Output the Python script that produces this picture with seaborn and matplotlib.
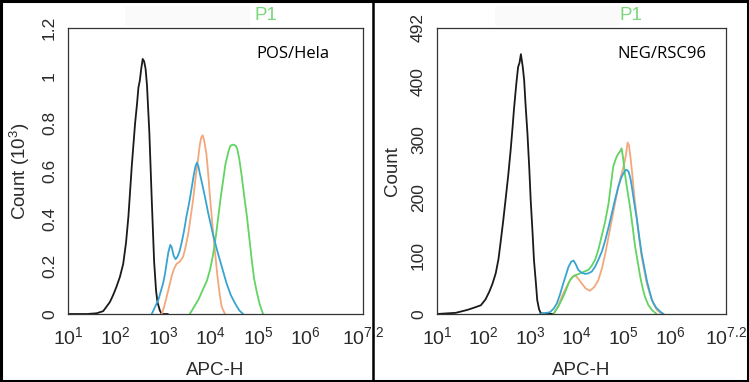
import numpy as np
import pandas as pd
import matplotlib.pyplot as plt
import matplotlib.ticker as mticker
from matplotlib.lines import Line2D
from matplotlib.patches import Rectangle
import seaborn as sns

# ---- data (x in log10 units, y in counts) ----
# left panel: POS/Hela, counts in 10^3
pos_black_x = [1.0, 1.4, 1.6, 1.74, 1.88, 1.95, 2.02, 2.09, 2.16, 2.22, 2.27, 2.34, 2.41, 2.45, 2.48, 2.51, 2.54, 2.57, 2.60, 2.63, 2.66, 2.71, 2.76, 2.81, 2.85, 2.88, 2.93, 2.97, 3.1]
pos_black_y = [0.0, 0.0, 0.003, 0.012, 0.05, 0.08, 0.115, 0.155, 0.21, 0.30, 0.41, 0.62, 0.80, 0.88, 0.95, 0.98, 1.03, 1.07, 1.06, 1.03, 0.96, 0.76, 0.48, 0.22, 0.10, 0.05, 0.015, 0.0, 0.0]
pos_blue_x = [2.76, 2.83, 2.90, 2.95, 3.0, 3.04, 3.07, 3.11, 3.15, 3.18, 3.22, 3.26, 3.30, 3.34, 3.39, 3.44, 3.49, 3.55, 3.60, 3.64, 3.68, 3.71, 3.74, 3.77, 3.81, 3.88, 3.95, 4.04, 4.13, 4.23, 4.33, 4.42, 4.51, 4.60, 4.68]
pos_blue_y = [0.0, 0.03, 0.06, 0.095, 0.13, 0.17, 0.21, 0.26, 0.29, 0.28, 0.245, 0.23, 0.24, 0.26, 0.30, 0.35, 0.41, 0.47, 0.53, 0.58, 0.62, 0.635, 0.62, 0.59, 0.555, 0.49, 0.42, 0.34, 0.27, 0.20, 0.13, 0.08, 0.045, 0.015, 0.0]
pos_orange_x = [2.97, 3.02, 3.07, 3.12, 3.18, 3.23, 3.28, 3.35, 3.42, 3.47, 3.53, 3.58, 3.63, 3.68, 3.74, 3.77, 3.80, 3.83, 3.86, 3.91, 3.95, 3.98, 4.02, 4.05, 4.10, 4.14, 4.19, 4.23, 4.30]
pos_orange_y = [0.0, 0.03, 0.07, 0.11, 0.16, 0.19, 0.21, 0.22, 0.24, 0.28, 0.34, 0.41, 0.48, 0.57, 0.66, 0.71, 0.74, 0.75, 0.73, 0.67, 0.58, 0.50, 0.41, 0.34, 0.24, 0.16, 0.08, 0.03, 0.0]
pos_green_x = [3.56, 3.65, 3.74, 3.83, 3.92, 3.99, 4.05, 4.11, 4.16, 4.21, 4.26, 4.31, 4.37, 4.41, 4.45, 4.49, 4.53, 4.56, 4.60, 4.65, 4.70, 4.76, 4.81, 4.86, 4.91, 4.97, 5.03, 5.10]
pos_green_y = [0.0, 0.03, 0.06, 0.10, 0.14, 0.19, 0.25, 0.33, 0.41, 0.49, 0.56, 0.63, 0.68, 0.705, 0.71, 0.71, 0.705, 0.69, 0.65, 0.58, 0.50, 0.41, 0.32, 0.23, 0.15, 0.09, 0.04, 0.0]

# right panel: NEG/RSC96, raw counts
neg_black_x = [1.0, 1.4, 1.65, 1.8, 1.94, 2.04, 2.12, 2.19, 2.26, 2.32, 2.37, 2.42, 2.47, 2.53, 2.58, 2.62, 2.65, 2.70, 2.74, 2.77, 2.80, 2.84, 2.87, 2.90, 2.94, 2.98, 3.01, 3.05, 3.08, 3.12, 3.15, 3.19, 3.23, 3.5]
neg_black_y = [0, 2, 7, 11, 15, 25, 38, 52, 70, 95, 127, 160, 196, 240, 282, 320, 351, 395, 425, 432, 447, 425, 402, 360, 311, 250, 196, 140, 93, 55, 24, 8, 1, 0]
neg_blue_x = [3.2, 3.42, 3.50, 3.57, 3.64, 3.71, 3.77, 3.82, 3.88, 3.93, 3.98, 4.03, 4.10, 4.18, 4.25, 4.32, 4.39, 4.46, 4.54, 4.61, 4.68, 4.75, 4.82, 4.89, 4.95, 5.00, 5.04, 5.07, 5.11, 5.15, 5.18, 5.23, 5.29, 5.34, 5.39, 5.45, 5.50, 5.56, 5.61, 5.70, 5.79, 5.86]
neg_blue_y = [0, 3, 9, 18, 34, 53, 68, 81, 90, 92, 85, 76, 71, 69, 70, 73, 81, 93, 108, 127, 149, 173, 197, 219, 234, 242, 247, 248, 245, 233, 219, 192, 162, 132, 104, 79, 58, 39, 24, 11, 4, 0]
neg_orange_x = [3.50, 3.60, 3.68, 3.75, 3.82, 3.89, 3.96, 4.03, 4.10, 4.19, 4.28, 4.37, 4.46, 4.54, 4.61, 4.68, 4.75, 4.82, 4.89, 4.95, 5.00, 5.05, 5.09, 5.12, 5.15, 5.18, 5.23, 5.29, 5.34, 5.39, 5.45, 5.50, 5.57, 5.64, 5.72, 5.79, 5.86]
neg_orange_y = [0, 14, 30, 42, 53, 62, 67, 61, 53, 44, 40, 46, 58, 79, 104, 133, 162, 191, 219, 238, 253, 272, 295, 290, 270, 248, 205, 162, 128, 99, 74, 53, 34, 18, 7, 2, 0]
neg_green_x = [3.50, 3.61, 3.71, 3.78, 3.85, 3.91, 3.96, 4.01, 4.07, 4.16, 4.25, 4.32, 4.39, 4.46, 4.53, 4.61, 4.68, 4.73, 4.78, 4.84, 4.89, 4.93, 4.96, 4.99, 5.03, 5.08, 5.14, 5.20, 5.25, 5.31, 5.36, 5.41, 5.46, 5.53, 5.61, 5.71]
neg_green_y = [0, 14, 30, 44, 58, 64, 66, 68, 70, 73, 76, 83, 93, 110, 133, 160, 190, 222, 253, 268, 276, 280, 285, 270, 242, 215, 185, 148, 116, 88, 64, 45, 30, 16, 7, 0]

x_tick_exp = [1, 2, 3, 4, 5, 6, 7.2]
x_tick_labels = ['$10^{1}$', '$10^{2}$', '$10^{3}$', '$10^{4}$', '$10^{5}$', '$10^{6}$', '$10^{7.2}$']
pos_yticks = [0, 0.2, 0.4, 0.6, 0.8, 1.0, 1.2]
pos_ylabels = ['0', '0.2', '0.4', '0.6', '0.8', '1', '1.2']
neg_yticks = [0, 100, 200, 300, 400, 492]
neg_ylabels = ['0', '100', '200', '300', '400', '492']

colors = {'black': '#1a1a1a', 'blue': '#38a4d2', 'orange': '#f3a87c', 'green': '#62d462'}


def make_frame(curves):
    rows = []
    for name, xs, ys in curves:
        for lx, y in zip(xs, ys):
            rows.append({'x': 10 ** lx, 'y': y, 'curve': name})
    return pd.DataFrame(rows)


pos_df = make_frame([('black', pos_black_x, pos_black_y), ('orange', pos_orange_x, pos_orange_y),
                     ('green', pos_green_x, pos_green_y), ('blue', pos_blue_x, pos_blue_y)])
neg_df = make_frame([('black', neg_black_x, neg_black_y), ('orange', neg_orange_x, neg_orange_y),
                     ('green', neg_green_x, neg_green_y), ('blue', neg_blue_x, neg_blue_y)])

sns.set_style('white')
plt.rcParams['font.family'] = ['Liberation Sans', 'DejaVu Sans']
plt.rcParams['mathtext.fontset'] = 'custom'
plt.rcParams['mathtext.rm'] = 'Liberation Sans'
plt.rcParams['mathtext.it'] = 'Liberation Sans'

fig = plt.figure(figsize=(7.49, 3.82), dpi=100)
W, H = 749, 382
ax1 = fig.add_axes([68 / W, (H - 314) / H, 295 / W, 286 / H])
ax2 = fig.add_axes([437 / W, (H - 314) / H, 289 / W, 286 / H])


def style_axis(ax, df, yticks, ylabels, ymax, minor_step, ylabel, tag, tag_x):
    sns.lineplot(data=df, x='x', y='y', hue='curve', palette=colors, estimator=None,
                 sort=False, linewidth=1.3, legend=False, ax=ax)
    ax.set_xscale('log')
    ax.set_xlim(10, 10 ** 7.2)
    ax.set_ylim(0, ymax)
    ax.set_xticks([10 ** e for e in x_tick_exp])
    ax.set_xticklabels(x_tick_labels, fontsize=14, color='#2a2a2a')
    ax.xaxis.set_minor_locator(mticker.LogLocator(base=10, subs=np.arange(2, 10), numticks=20))
    ax.xaxis.set_minor_formatter(mticker.NullFormatter())
    ax.set_yticks(yticks)
    ax.set_yticklabels(ylabels, rotation=90, va='center', fontsize=12.5, color='#2a2a2a')
    ax.yaxis.set_minor_locator(mticker.MultipleLocator(minor_step))
    ax.tick_params(which='major', direction='out', length=4, width=0.8, color='#333333')
    ax.tick_params(axis='x', which='major', pad=5)
    ax.tick_params(axis='y', which='major', pad=4)
    ax.tick_params(which='minor', direction='out', length=2.5, width=0.6, color='#555555')
    ax.tick_params(axis='x', which='minor', direction='in', length=3)
    for s in ax.spines.values():
        s.set_color('#333333')
        s.set_linewidth(0.9)
    ax.set_xlabel('APC-H', fontsize=13.5, color='#2a2a2a', labelpad=10)
    ax.set_ylabel(ylabel, fontsize=13.5, color='#2a2a2a', labelpad=7)
    ax.text(tag_x, 0.91, tag, transform=ax.transAxes, fontsize=12,
            family=['Open Sans', 'DejaVu Sans'], color='black', va='center')
    ax.text(0.67, 1.043, 'P1', transform=ax.transAxes, fontsize=13.5, color='#7ad87a', ha='center', va='center')


style_axis(ax1, pos_df, pos_yticks, pos_ylabels, 1.2, 0.05, 'Count (10$^{3}$)', 'POS/Hela', 0.64)
style_axis(ax2, neg_df, neg_yticks, neg_ylabels, 492, 20, 'Count', 'NEG/RSC96', 0.625)

# faint band behind the "P1" titles
for x0 in (125, 495):
    fig.add_artist(Rectangle((x0 / W, (H - 26) / H), 125 / W, 20 / H, transform=fig.transFigure,
                             facecolor='#fafafa', edgecolor='none', zorder=0))

# outer frame and divider
fig.add_artist(Rectangle((0.002, 0.003), 0.996, 0.994, transform=fig.transFigure,
                         fill=False, edgecolor='black', linewidth=2.2))
fig.add_artist(Line2D([373 / W, 373 / W], [0, 1], transform=fig.transFigure, color='black', linewidth=1.8))

fig.savefig('out.png', dpi=100)
